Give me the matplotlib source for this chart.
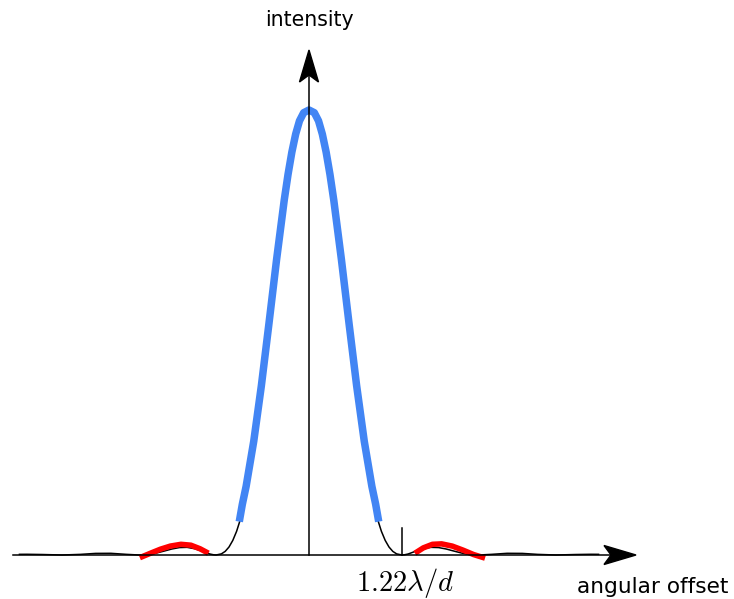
import matplotlib.pyplot as plt
from matplotlib.patches import Polygon

# angular offset in units of lambda/d, intensity normalised to the peak
offset = [-3.8, -3.7, -3.5, -3.24, -3.0, -2.8, -2.6, -2.4, -2.23, -2.1, -2.0, -1.9,
          -1.8, -1.7, -1.6, -1.5, -1.4, -1.3, -1.25, -1.22, -1.15, -1.1, -1.05, -1.0,
          -0.95, -0.9, -0.85, -0.8, -0.7, -0.6, -0.5, -0.4, -0.3, -0.25, -0.2, -0.15,
          -0.1, -0.05, 0.0, 0.05, 0.1, 0.15, 0.2, 0.25, 0.3, 0.4, 0.5, 0.6, 0.7, 0.8,
          0.85, 0.9, 0.95, 1.0, 1.05, 1.1, 1.15, 1.22, 1.25, 1.3, 1.4, 1.5, 1.6, 1.7,
          1.8, 1.9, 2.0, 2.1, 2.23, 2.4, 2.6, 2.8, 3.0, 3.24, 3.5, 3.7, 3.8]
intensity = [0.0015, 0.0016, 0.0011, 0.0, 0.0014, 0.0036, 0.0038, 0.0015, 0.0, 0.0015,
             0.0045, 0.0089, 0.0135, 0.0167, 0.0172, 0.0141, 0.0085, 0.0022, 0.0004,
             0.0, 0.0025, 0.0081, 0.0179, 0.0328, 0.0533, 0.0803, 0.1139, 0.1544,
             0.2558, 0.3806, 0.5209, 0.6645, 0.7975, 0.8554, 0.9053, 0.9458, 0.9756,
             0.9939, 1.0, 0.9939, 0.9756, 0.9458, 0.9053, 0.8554, 0.7975, 0.6645,
             0.5209, 0.3806, 0.2558, 0.1544, 0.1139, 0.0803, 0.0533, 0.0328, 0.0179,
             0.0081, 0.0025, 0.0, 0.0004, 0.0022, 0.0085, 0.0141, 0.0172, 0.0167,
             0.0135, 0.0089, 0.0045, 0.0015, 0.0, 0.0015, 0.0038, 0.0036, 0.0014, 0.0,
             0.0011, 0.0016, 0.0015]

# central lobe highlight (blue), sits slightly outside the black curve
blue_x = [-0.915, -0.875, -0.825, -0.725, -0.625, -0.525, -0.425, -0.325, -0.275,
          -0.225, -0.175, -0.125, -0.07, 0.0, 0.07, 0.125, 0.175, 0.225, 0.275,
          0.325, 0.425, 0.525, 0.625, 0.725, 0.825, 0.875, 0.915]
blue_y = [0.075, 0.1139, 0.1544, 0.2558, 0.3806, 0.5209, 0.6645, 0.7975, 0.8554,
          0.9053, 0.9458, 0.9756, 0.9939, 1.0, 0.9939, 0.9756, 0.9458, 0.9053, 0.8554,
          0.7975, 0.6645, 0.5209, 0.3806, 0.2558, 0.1544, 0.1139, 0.075]

# first side lobes highlight (red)
red_left_x = [-2.22, -2.08, -1.95, -1.82, -1.68, -1.55, -1.43, -1.32]
red_left_y = [-0.006, 0.004, 0.013, 0.020, 0.024, 0.022, 0.014, 0.004]
red_right_x = [1.39, 1.5, 1.62, 1.74, 1.88, 2.02, 2.16, 2.31]
red_right_y = [0.004, 0.016, 0.024, 0.025, 0.020, 0.011, 0.001, -0.007]

first_zero = 1.22

plt.rcParams['mathtext.fontset'] = 'cm'

fig = plt.figure(figsize=(7.34, 5.99), dpi=100)
ax = fig.add_axes([0, 0, 1, 1])
# 76.2 px per lambda/d, 445 px per unit intensity, origin at pixel (309, 555)
ax.set_xlim(-309 / 76.2, (734 - 309) / 76.2)
ax.set_ylim(-(599 - 555) / 445, 555 / 445)
ax.axis('off')

ax.plot(offset, intensity, color='black', lw=1.1, zorder=3)
ax.plot(blue_x, blue_y, color='#4285f4', lw=5.4, solid_capstyle='butt',
        solid_joinstyle='round', zorder=4)
ax.plot(red_left_x, red_left_y, color='#ff0000', lw=4.0, solid_capstyle='butt', zorder=4)
ax.plot(red_right_x, red_right_y, color='#ff0000', lw=4.0, solid_capstyle='butt', zorder=4)
ax.plot([first_zero, first_zero], [0, 0.06], color='black', lw=1.1, zorder=3)

# axes with arrow heads, drawn in pixel coordinates
ov = fig.add_axes([0, 0, 1, 1])
ov.set_xlim(0, 734)
ov.set_ylim(599, 0)
ov.axis('off')
ov.patch.set_alpha(0)
ov.plot([13, 615], [555, 555], color='black', lw=1.1)
ov.plot([309, 309], [555, 70], color='black', lw=1.1)
ov.add_patch(Polygon([(636, 555), (604, 545.5), (611, 555), (604, 564.5)],
                     closed=True, color='black'))
ov.add_patch(Polygon([(309, 50), (299.5, 82), (309, 75), (318.5, 82)],
                     closed=True, color='black'))

ov.text(309, 20, 'intensity', ha='center', va='center', fontsize=14.8)
ov.text(653, 587, 'angular offset', ha='center', va='center', fontsize=15.6)
ov.text(405, 583, r'$1.22\lambda/d$', ha='center', va='center', fontsize=20.5)

plt.savefig('out.png', dpi=100)
